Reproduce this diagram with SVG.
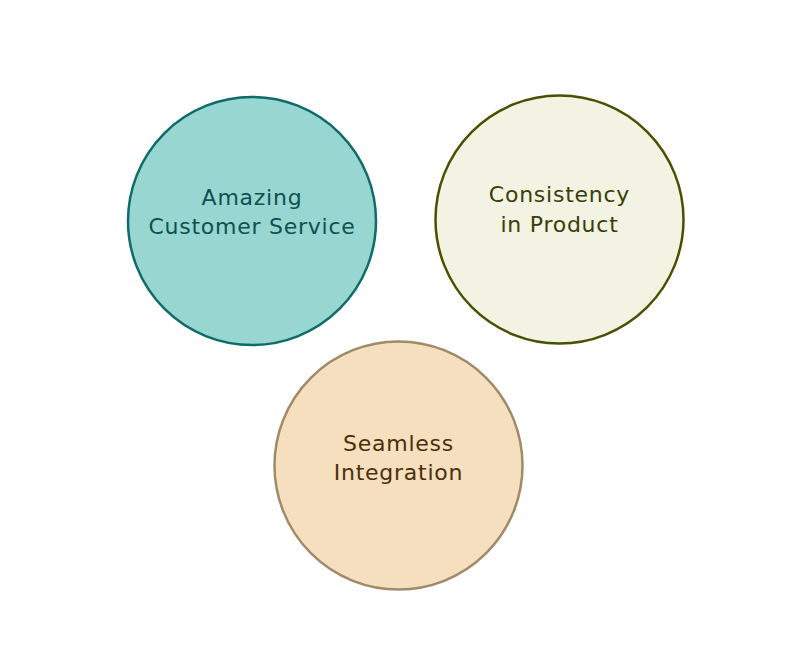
<svg xmlns="http://www.w3.org/2000/svg" width="792" height="648" viewBox="0 0 792 648">
<style>
text{font-family:"DejaVu Sans","Open Sans",sans-serif;font-size:22px;letter-spacing:0.75px;text-anchor:middle}
circle{stroke-width:2.5}
</style>
<rect width="792" height="648" fill="#ffffff"/>
<g id="node-customer-service">
<circle cx="252" cy="221" r="124" fill="#98D6D2" stroke="#0E6B68"/>
<text x="252" y="205" fill="#0D524E">Amazing</text>
<text x="252" y="234" fill="#0D524E">Customer Service</text>
</g>
<g id="node-consistency">
<circle cx="559.5" cy="219.5" r="124" fill="#F2F3E3" stroke="#4B5000"/>
<text x="559.5" y="202" fill="#3A3E06">Consistency</text>
<text x="559.5" y="231.5" fill="#3A3E06">in Product</text>
</g>
<g id="node-integration">
<circle cx="398.5" cy="465.5" r="124" fill="#F5DFBE" stroke="#A08A68"/>
<text x="398.5" y="450.5" fill="#4A2F0A">Seamless</text>
<text x="398.5" y="480" fill="#4A2F0A">Integration</text>
</g>
<g id="connectors"/>
</svg>
